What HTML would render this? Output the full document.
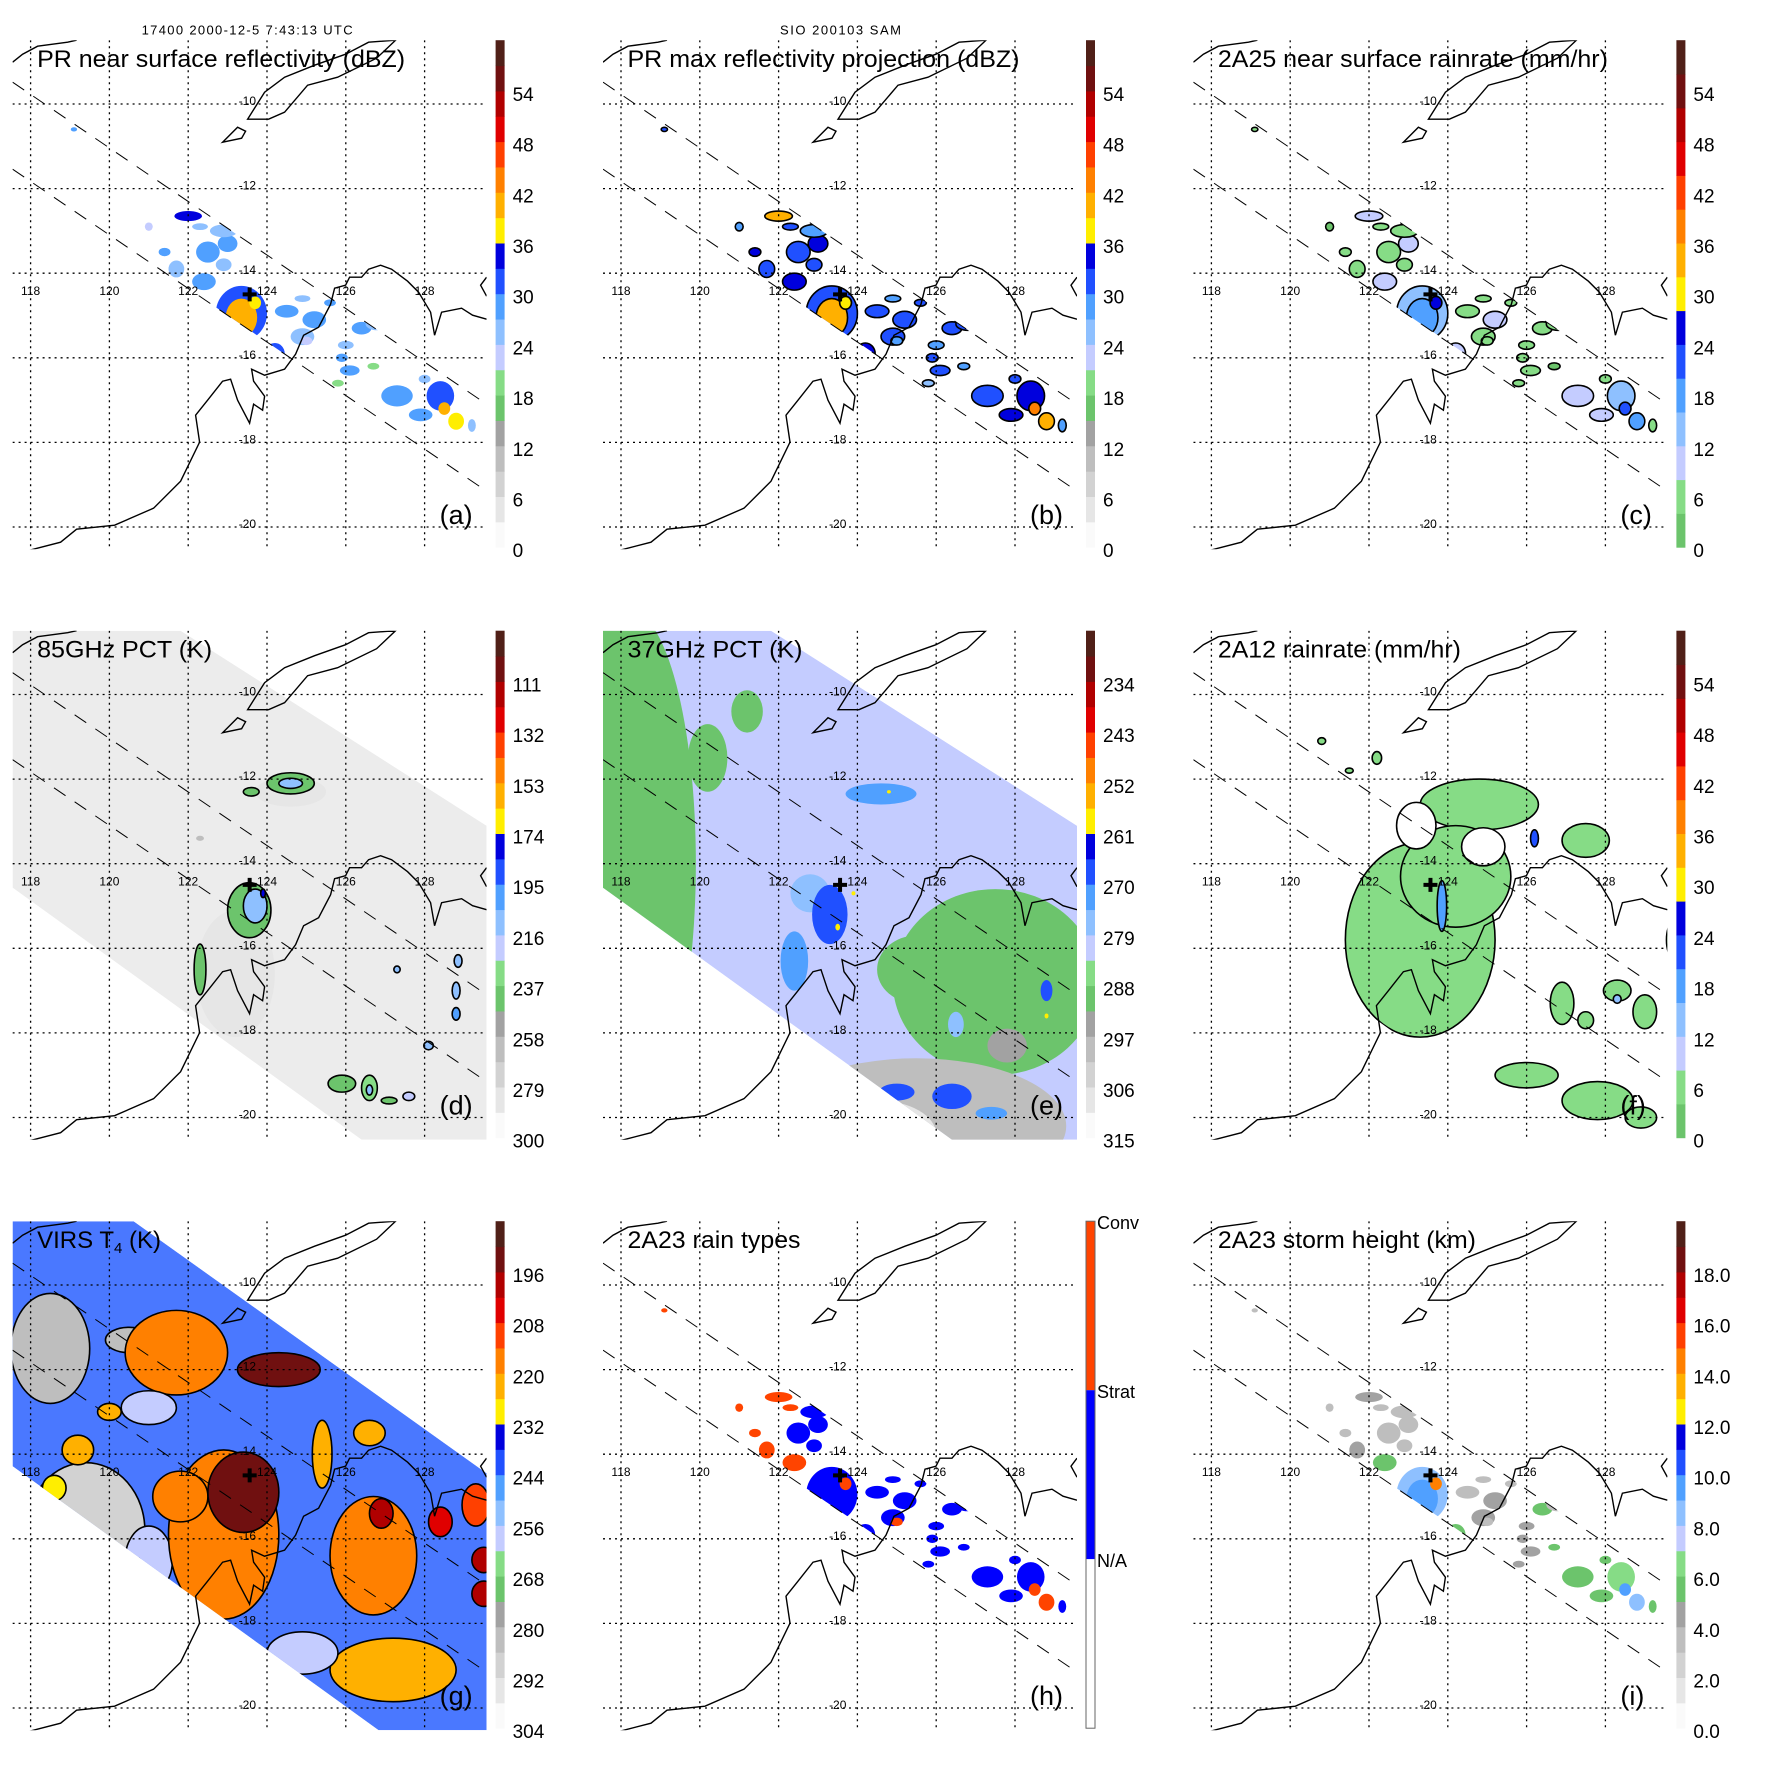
<!DOCTYPE html>
<html><head><meta charset="utf-8"><style>
html,body{margin:0;padding:0;background:#fff}
svg{display:block}
text{font-family:"Liberation Sans",sans-serif}
</style></head><body>
<svg id="fig" xmlns="http://www.w3.org/2000/svg" width="1771" height="1771" viewBox="0 0 1771 1771">
<rect x="0" y="0" width="1771" height="1771" fill="#fff"/>
<text x="141.6" y="34.4" font-size="13" textLength="211">17400 2000-12-5 7:43:13 UTC</text>
<text x="780" y="34.4" font-size="13" textLength="121">SIO 200103 SAM</text>
</svg>
<script>
// ---- axis data ----
const lonTicks=[118,120,122,124,126,128];
const latTicks=[-10,-12,-14,-16,-18,-20];
const ticksDBZ=[0,6,12,18,24,30,36,42,48,54];
const ticksRain=[0,6,12,18,24,30,36,42,48,54];
const ticks85=[300,279,258,237,216,195,174,153,132,111];
const ticks37=[315,306,297,288,279,270,261,252,243,234];
const ticksVIRS=[304,292,280,268,256,244,232,220,208,196];
const ticksHt=["0.0","2.0","4.0","6.0","8.0","10.0","12.0","14.0","16.0","18.0"];
const typeLabels=["Conv","Strat","N/A"];
// ---- PR swath blobs (shared footprint) ----
const prLon=[123.35,123.35,123.7,122.0,122.5,123.0,121.7,122.4,124.5,125.2,126.4,124.2,125.9,126.8,127.3,128.4,128.5,127.9,128.8,127.5,127.3,126.5,125.8,119.1,121.0,124.9,126.1,122.9,122.3,121.4,122.9,124.9,125.6,126.0,125.0,126.7,128.0,129.2,128.3,124.0];
const prLat=[-14.95,-15.05,-14.7,-12.65,-13.5,-13.3,-13.9,-14.2,-14.9,-15.1,-15.3,-15.9,-16.0,-15.2,-16.9,-16.9,-17.2,-17.35,-17.5,-18.25,-18.2,-17.4,-16.6,-10.6,-12.9,-15.5,-16.3,-13.0,-12.9,-13.5,-13.8,-14.6,-14.7,-15.7,-15.6,-16.2,-16.5,-17.6,-18.5,-16.0];
const prRx=[0.65,0.4,0.15,0.35,0.3,0.25,0.2,0.3,0.3,0.3,0.25,0.25,0.15,0.3,0.4,0.35,0.15,0.3,0.2,0.3,0.1,0.2,0.15,0.08,0.1,0.3,0.25,0.35,0.2,0.15,0.2,0.2,0.15,0.2,0.15,0.15,0.15,0.1,0.1,0.2];
const prRy=[0.65,0.45,0.15,0.12,0.25,0.2,0.2,0.2,0.15,0.2,0.15,0.25,0.1,0.15,0.25,0.35,0.15,0.15,0.2,0.12,0.06,0.1,0.08,0.05,0.1,0.2,0.12,0.15,0.08,0.1,0.15,0.08,0.08,0.1,0.1,0.08,0.1,0.15,0.06,0.15];
const dbzNear=[30,40,37,34,27,28,26,29,27,28,27,30,27,26,27,31,40,28,36,31,42,19,18,27,22,26,27,24,25,28,26,24,27,25,22,19,26,24,27,29];
const dbzMax=[31,39,38,40,30,33,32,34,31,32,31,34,30,30,32,35,42,33,40,37,44,28,26,30,28,30,30,28,30,34,31,29,30,29,28,27,30,29,31,33];
const rain2A25=[15,19,24,8,7,8,7,9,7,8,7,11,7,7,9,13,22,9,17,11,25,5,4,5,3,6,6,5,4,6,5,4,6,5,4,3,5,4,6,7];
const rainType=[1,1,2,2,1,1,2,2,1,1,1,1,1,1,1,1,2,1,2,1,2,1,1,2,2,1,1,1,2,2,1,1,1,1,2,1,1,1,2,1];
const stormHt=[8.5,9.5,14,4,3.5,3.8,4,5,3.5,4,5,5.5,4,3.5,5.5,6.5,9,5.5,8,6,10,5.5,4.5,3,3,4,4.5,3,3,3.5,3,3,3.5,4,3,5.5,5.5,5,6,6];
// ---- 85GHz PCT ----
const d85Lon=[123.2,124.6,123.55,123.7,123.9,124.6,124.6,123.6,122.3,128.85,128.8,128.8,127.3,128.1,125.9,126.6,126.6,127.6,127.1,122.3];
const d85Lat=[-16.6,-12.3,-15.1,-15.0,-14.7,-12.1,-12.1,-12.3,-16.5,-16.3,-17.0,-17.55,-16.5,-18.3,-19.2,-19.3,-19.35,-19.5,-19.6,-13.4];
const d85Rx=[1.0,0.9,0.55,0.3,0.06,0.6,0.3,0.2,0.15,0.1,0.1,0.1,0.08,0.12,0.35,0.2,0.08,0.15,0.2,0.1];
const d85Ry=[1.5,0.35,0.65,0.4,0.1,0.25,0.12,0.1,0.6,0.15,0.2,0.15,0.08,0.1,0.2,0.3,0.12,0.1,0.08,0.06];
const d85Val=[286,284,240,212,175,238,215,240,240,215,215,205,215,215,240,235,212,220,240,262];
// ---- 37GHz PCT ----
const e37Lon=[118.2,120.2,121.2,127.5,125.5,125.5,124.5,127.8,122.8,123.3,122.4,124.6,125.0,126.4,127.4,128.8,126.5,121.8,123.5,123.9,124.8,128.8];
const e37Lat=[-14.0,-11.5,-10.4,-16.8,-16.5,-20.2,-20.4,-18.3,-14.7,-15.2,-16.3,-12.35,-19.4,-19.5,-19.9,-17.0,-17.8,-13.0,-15.5,-14.7,-12.3,-17.6];
const e37Rx=[1.7,0.5,0.4,2.6,1.0,3.8,1.5,0.5,0.5,0.45,0.35,0.9,0.45,0.5,0.4,0.15,0.2,0.5,0.06,0.05,0.05,0.05];
const e37Ry=[6.0,0.8,0.5,2.2,0.8,1.6,0.8,0.4,0.45,0.7,0.7,0.25,0.2,0.3,0.15,0.25,0.3,0.3,0.08,0.05,0.04,0.06];
const e37Val=[290,290,290,290,290,300,308,297,278,268,271,272,269,267,272,270,276,280,260,260,260,260];
// ---- 2A12 rainrate ----
const f12Lon=[123.3,124.8,124.2,123.2,124.9,123.85,127.5,126.9,128.3,129.0,127.5,126.0,127.8,128.9,129.7,120.8,122.2,121.5,126.2,128.3];
const f12Lat=[-15.8,-12.6,-14.3,-13.1,-13.6,-15.0,-13.45,-17.3,-17.0,-17.5,-17.7,-19.0,-19.6,-20.0,-15.8,-11.1,-11.5,-11.8,-13.4,-17.2];
const f12Rx=[1.9,1.5,1.4,0.5,0.55,0.12,0.6,0.3,0.35,0.3,0.2,0.8,0.9,0.4,0.15,0.1,0.12,0.1,0.1,0.1];
const f12Ry=[2.3,0.6,1.2,0.55,0.45,0.6,0.4,0.5,0.25,0.4,0.2,0.3,0.45,0.25,0.4,0.08,0.15,0.06,0.2,0.1];
const f12Val=[4,4,4,-1,-1,18,4,4,4,4,4,4,4,4,4,4,4,4,20,15];
// ---- VIRS Tb ----
const gLon=[118.5,119.4,120.5,121.0,121.7,122.9,121.8,126.7,127.2,125.4,119.2,118.6,120.0,129.3,126.6,123.4,124.3,126.9,129.5,129.5,128.4,124.9,121.0];
const gLat=[-11.5,-15.8,-11.3,-16.5,-11.6,-15.9,-15.0,-16.4,-19.1,-14.0,-13.9,-14.8,-13.0,-15.2,-13.5,-14.9,-12.0,-15.4,-16.5,-17.3,-15.6,-18.7,-12.9];
const gRx=[1.0,1.5,0.6,0.6,1.3,1.4,0.7,1.1,1.6,0.25,0.4,0.3,0.3,0.35,0.4,0.9,1.05,0.3,0.3,0.3,0.3,0.9,0.7];
const gRy=[1.3,1.6,0.3,0.8,1.0,2.0,0.6,1.4,0.75,0.8,0.35,0.3,0.2,0.5,0.3,0.95,0.4,0.35,0.3,0.3,0.35,0.5,0.4];
const gVal=[285,288,283,262,217,217,219,218,221,222,226,228,226,210,224,192,196,200,198,198,205,262,262];

const NS="http://www.w3.org/2000/svg";
const svg=document.getElementById('fig');
const W=474,H=509;
const COLX=[12.6,603,1193.4], ROWY=[40.2,630.7,1221.2];
const PAL=['#fafafa','#e6e6e6','#d2d2d2','#bebebe','#a2a2a2','#6cc46c','#86dc86','#c4ccff','#8ec0ff','#50a0ff','#2050ff','#0000dd','#ffee00','#ffb000','#ff8000','#ff4000','#e00000','#b00000','#701010','#502018'];
const PALR=PAL.slice(5);
function X(lon){return 18+(lon-118)*39.4}
function Y(lat){return 63.8+(-10-lat)*42.3}
function mk(tag,attrs,parent){const e=document.createElementNS(NS,tag);for(const k in attrs)e.setAttribute(k,attrs[k]);parent.appendChild(e);return e;}
function colorFor(v,lo,hi,pal){let f=(v-lo)/(hi-lo);let i=Math.floor(f*pal.length);i=Math.max(0,Math.min(pal.length-1,i));return pal[i];}

const COAST="M17,510 L48,502 L64,489 L102,485 L141,468 L168,441 L187,402 L183,375 L195,360 L210,341 L218,339 L225,360 L237,383 L241,364 L250,370 L252,356 L241,341 L239,329 L252,335 L272,329 L283,314 L291,295 L306,287 L318,264 L322,248 L333,245 L337,237 L349,237 L356,229 L368,225 L379,229 L395,241 L406,252 L418,272 L422,295 L429,272 L449,268 L460,275 L474,279";
const TIMOR="M235,79 L252,52 L272,37 L302,25 L333,14 L356,2 L383,0 L364,18 L325,37 L295,45 L272,72 L256,79 Z";
const ISLE="M210,102 L225,87 L233,91 L229,98 Z";
const NWCOAST="M0,22 L10,14 L25,6 L40,4 L55,2 L64,0";
const NECOAST="M474,237 L468,245 L474,256";

const panels=[
 {id:'a',c:0,r:0,title:'PR near surface reflectivity (dBZ)',tw:368,kind:'pr',vals:dbzNear,lo:0,hi:60,pal:PAL,ticks:ticksDBZ,tv:ticksDBZ,outline:false},
 {id:'b',c:1,r:0,title:'PR max reflectivity projection (dBZ)',tw:392,kind:'pr',vals:dbzMax,lo:0,hi:60,pal:PAL,ticks:ticksDBZ,tv:ticksDBZ,outline:true},
 {id:'c',c:2,r:0,title:'2A25 near surface rainrate (mm/hr)',tw:390,kind:'pr',vals:rain2A25,lo:0,hi:60,pal:PALR,ticks:ticksRain,tv:ticksRain,outline:true},
 {id:'d',c:0,r:1,title:'85GHz PCT (K)',tw:175,kind:'tmi',bg:'#ececec',lon:d85Lon,lat:d85Lat,rx:d85Rx,ry:d85Ry,vals:d85Val,lo:300,hi:90,pal:PAL,ticks:ticks85,tv:ticks85.map(v=>(300-v)*60/210),outline:true,outlineMin:250},
 {id:'e',c:1,r:1,title:'37GHz PCT (K)',tw:175,kind:'tmi',bg:'#c4ccff',lon:e37Lon,lat:e37Lat,rx:e37Rx,ry:e37Ry,vals:e37Val,lo:315,hi:225,pal:PAL,ticks:ticks37,tv:ticks37.map(v=>(315-v)*60/90),outline:false},
 {id:'f',c:2,r:1,title:'2A12 rainrate (mm/hr)',tw:243,kind:'f12',lon:f12Lon,lat:f12Lat,rx:f12Rx,ry:f12Ry,vals:f12Val,lo:0,hi:60,pal:PALR,ticks:ticksRain,tv:ticksRain,outline:true},
 {id:'g',c:0,r:2,title:'VIRS T4 (K)',tw:148,kind:'virs',bg:'#4a78ff',lon:gLon,lat:gLat,rx:gRx,ry:gRy,vals:gVal,lo:304,hi:184,pal:PAL,ticks:ticksVIRS,tv:ticksVIRS.map(v=>(304-v)/2),outline:true},
 {id:'h',c:1,r:2,title:'2A23 rain types',tw:173,kind:'pr',vals:rainType,type:true,outline:false},
 {id:'i',c:2,r:2,title:'2A23 storm height (km)',tw:258,kind:'pr',vals:stormHt,lo:0,hi:20,pal:PAL,ticks:ticksHt,tv:ticksHt.map(v=>parseFloat(v)*3),outline:false}
];

panels.forEach(p=>{
 const g=mk('g',{transform:`translate(${COLX[p.c]},${ROWY[p.r]})`},svg);
 
 
 const defs=mk('defs',{},g);
 const cp=mk('clipPath',{id:'clip-'+p.id},defs);
 mk('rect',{x:0,y:0,width:W,height:H},cp);
 const sw=mk('clipPath',{id:'sw-'+p.id},defs);
 let swPts;
 if(p.kind==='pr') swPts='0,42 474,364 474,451 0,129';
 else if(p.kind==='virs') swPts='0,0 121,0 474,252 474,509 366,509 0,245';
 else swPts='0,0 168,0 474,195 474,509 349,509 0,257';
 mk('polygon',{points:swPts},sw);
 const plot=mk('g',{'clip-path':`url(#clip-${p.id})`},g);
 
 
 const data=mk('g',{'clip-path':`url(#sw-${p.id})`},plot);
 
 
 if(p.bg){
  const bg=mk('polygon',{points:swPts,fill:p.bg},data);
  
  
 }
 let lon,lat,rx,ry;
 if(p.kind==='pr'){lon=prLon;lat=prLat;rx=prRx;ry=prRy;} else {lon=p.lon;lat=p.lat;rx=p.rx;ry=p.ry;}
 for(let k=0;k<p.vals.length;k++){
  const v=p.vals[k];
  let fill;
  if(p.type){fill=v===2?'#ff4400':(v===1?'#0000ff':'#ffffff');}
  else if(v<0){fill='#ffffff';}
  else fill=colorFor(v,p.lo,p.hi,p.pal);
  const e=mk('ellipse',{cx:X(lon[k]),cy:Y(lat[k]),rx:rx[k]*39.4,ry:ry[k]*42.3,fill:fill},data);
  if(p.outline && !(p.outlineMin && v>p.outlineMin)){e.setAttribute('stroke','#000');e.setAttribute('stroke-width','1.6');}
  
  
 }
 lonTicks.forEach(L=>{
  const l=mk('line',{x1:X(L),x2:X(L),y1:0,y2:H,stroke:'#000','stroke-width':1.3,'stroke-dasharray':'2,4'},plot);
  
  
  const t=mk('text',{x:X(L),y:255,'font-size':12,'text-anchor':'middle'},plot);
  t.textContent=String(L);
  
  
 });
 latTicks.forEach(L=>{
  const l=mk('line',{x1:0,x2:W,y1:Y(L),y2:Y(L),stroke:'#000','stroke-width':1.3,'stroke-dasharray':'2,4'},plot);
  
  
  const t=mk('text',{x:X(124)-11,y:Y(L)+1,'font-size':12,'text-anchor':'end'},plot);
  t.textContent=String(L);
  
  
 });
 [[0,42,474,364],[0,129,474,451]].forEach(s=>{
  const l=mk('line',{x1:s[0],y1:s[1],x2:s[2],y2:s[3],stroke:'#000','stroke-width':1,'stroke-dasharray':'14,11'},plot);
  
  
 });
 [COAST,TIMOR,ISLE,NWCOAST,NECOAST].forEach(d=>{
  const c=mk('path',{d:d,fill:'none',stroke:'#000','stroke-width':1.4},plot);
  
  
 });
 const cx=X(123.56),cy=Y(-14.5);
 const cr=mk('path',{d:`M${cx-7},${cy} H${cx+7} M${cx},${cy-7} V${cy+7}`,stroke:'#000','stroke-width':4},plot);
 
 
 let tt;
 if(p.id==='g'){
  tt=mk('text',{x:24.5,y:27,'font-size':24},g);
  tt.innerHTML='VIRS T<tspan font-size="15" dy="5">4</tspan><tspan dy="-5"> (K)</tspan>';
 } else {
  tt=mk('text',{x:24.5,y:27,'font-size':24,textLength:p.tw,lengthAdjust:'spacingAndGlyphs'},g);
  tt.textContent=p.title;
 }
 
 
 const lt=mk('text',{x:427,y:484,'font-size':27},g);
 lt.textContent='('+p.id+')';
 
 
 const cb=mk('g',{transform:'translate(483,0)'},g);
 
 
 const BH=507;
 if(p.type){
  const cols=['#ff4400','#0000ff','#ffffff'];
  for(let k=0;k<3;k++){
   const r=mk('rect',{x:0,y:k*BH/3,width:9,height:BH/3,fill:cols[k]},cb);
   
   
  }
  const o=mk('rect',{x:0,y:0,width:9,height:BH,fill:'none',stroke:'#666','stroke-width':1},cb);
  
  
  typeLabels.forEach((s,k)=>{
   const t=mk('text',{x:11,y:k*BH/3+8,'font-size':18},cb);
   t.textContent=s;
   
   
  });
 } else {
  const n=p.pal.length;
  for(let k=0;k<n;k++){
   const r=mk('rect',{x:0,y:BH-(k+1)*BH/n,width:9,height:BH/n+0.5,fill:p.pal[k]},cb);
   
   
  }
  p.ticks.forEach((lab,k)=>{
   const y=510-p.tv[k]/60*507;
   const t=mk('text',{x:17,y:y+7,'font-size':19},cb);
   t.textContent=String(lab);
   
   
  });
 }
});
</script>
</body></html>
